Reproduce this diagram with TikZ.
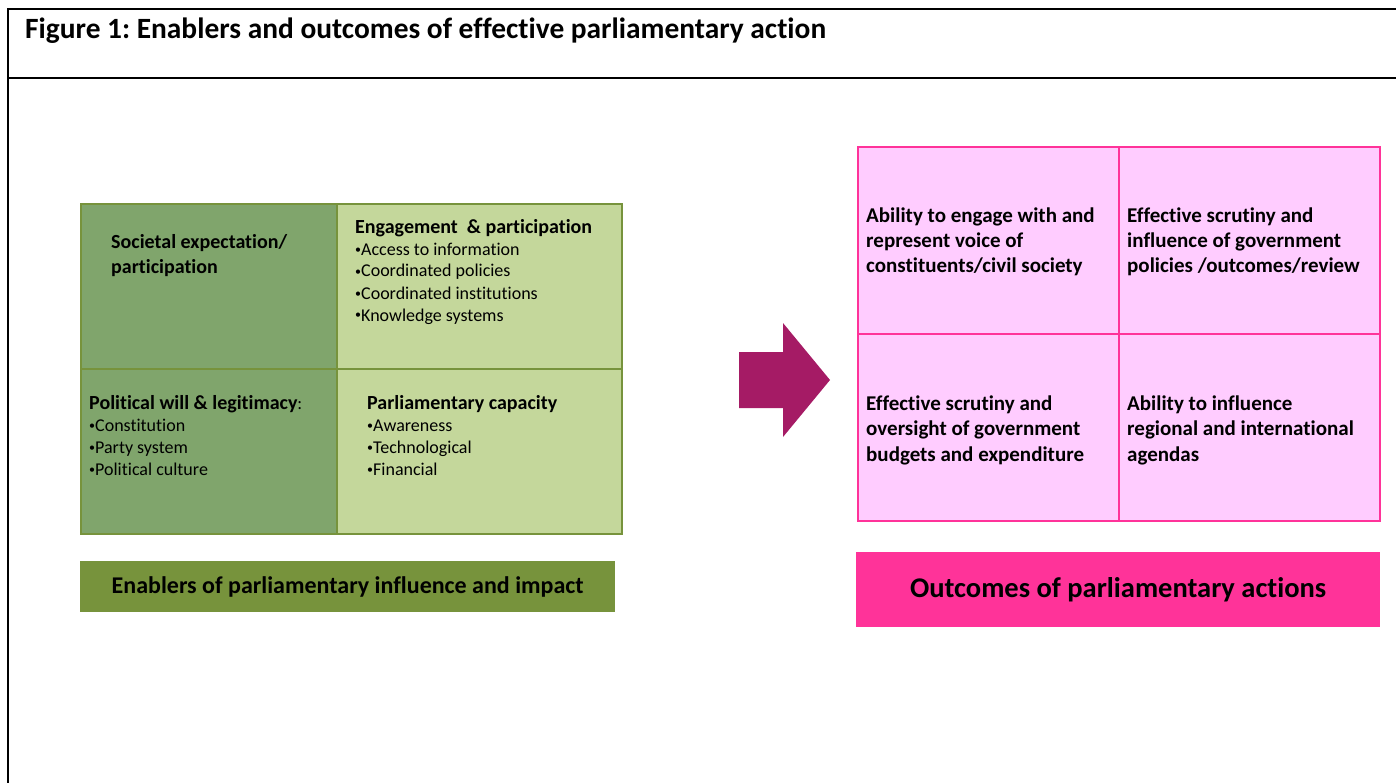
\documentclass[tikz,border=0pt]{standalone}
\usepackage{fontspec}
\setmainfont{Carlito}[Ligatures=NoCommon]
\usetikzlibrary{positioning, calc}
\frenchspacing

\definecolor{SageGreen}{RGB}{128,165,108}
\definecolor{PaleGreen}{RGB}{196,215,155}
\definecolor{OliveGreen}{RGB}{119,147,60}
\definecolor{PlumArrow}{RGB}{165,27,101}
\definecolor{PalePink}{RGB}{255,204,255}
\definecolor{HotPink}{RGB}{255,51,153}

\newcommand{\hdfont}{\bfseries\fontsize{20}{25}\selectfont}
\newcommand{\itfont}{\fontsize{18}{22}\selectfont}
\newcommand{\bul}{{\fontsize{12}{12}\selectfont\raisebox{2pt}{•}}}

\begin{document}
\begin{tikzpicture}[x=1pt, y=-1pt,
	gcell/.style={draw=OliveGreen, line width=2pt, anchor=north west, inner sep=0pt},
	pcell/.style={draw=HotPink, line width=2pt, fill=PalePink, anchor=north west,
		minimum width=261, minimum height=187, inner sep=0pt},
	txt/.style={anchor=base west, align=left, inner sep=0pt},
	ptxt/.style={txt, font=\bfseries\fontsize{21}{25.5}\selectfont}]

	\useasboundingbox (0,0) rectangle (1396,783);

	% ---------- frame and title ----------
	\draw[line width=2pt] (8,783) -- (8,9) -- (1396,9);
	\draw[line width=2pt] (8,78) -- (1396,78);
	\node[anchor=base west, inner sep=0pt, font=\bfseries\fontsize{29.4}{35}\selectfont]
		(title) at (25,39) {Figure 1: Enablers and outcomes of effective parliamentary action};

	% ---------- enablers ----------
	\node[gcell, fill=SageGreen, minimum width=256, minimum height=165] (soc) at (80,203) {};
	\node[gcell, fill=PaleGreen, minimum width=285, minimum height=165] (eng) at (336,203) {};
	\node[gcell, fill=SageGreen, minimum width=256, minimum height=165] (pol) at (80,368) {};
	\node[gcell, fill=PaleGreen, minimum width=285, minimum height=165] (cap) at (336,368) {};

	% text nodes sit on the baseline of their last line
	\node[txt, font=\hdfont] (soctxt) at (111,274) {Societal expectation/\\participation};
	\node[txt, font=\itfont] (engtxt) at (355,321)
		{{\hdfont Engagement~ \&~participation}\\
		 \bul Access to information\\ \bul Coordinated policies\\
		 \bul Coordinated institutions\\ \bul Knowledge systems};
	\node[txt, font=\itfont] (poltxt) at (89,475)
		{{\hdfont Political will \& legitimacy}:\\
		 \bul Constitution\\ \bul Party system\\ \bul Political culture};
	\node[txt, font=\itfont] (captxt) at (367,475)
		{{\hdfont Parliamentary capacity}\\
		 \bul Awareness\\ \bul Technological\\ \bul Financial};

	\node[fill=OliveGreen, anchor=north west, minimum width=535, minimum height=51,
		inner sep=0pt, font=\bfseries\fontsize{24}{29}\selectfont]
		(enablers) at (80,561) {Enablers of parliamentary influence and impact};

	% ---------- arrow ----------
	\fill[PlumArrow] (739,352) -- (783,352) -- (783,323) -- (830,380)
		-- (783,437) -- (783,408) -- (739,408) -- cycle;

	% ---------- outcomes ----------
	\node[pcell] (voice) at (857,146) {};
	\node[pcell] (policy) at (1118,146) {};
	\node[pcell] (budget) at (857,333) {};
	\node[pcell] (agenda) at (1118,333) {};

	\node[ptxt] (voicetxt) at (866,273)
		{Ability to engage with and\\ represent voice of\\ constituents/civil society};
	\node[ptxt] (policytxt) at (1127,273)
		{Effective scrutiny and\\ influence of government\\ policies /outcomes/review};
	\node[ptxt] (budgettxt) at (866,461)
		{Effective scrutiny and\\ oversight of government\\ budgets and expenditure};
	\node[ptxt] (agendatxt) at (1127,461)
		{Ability to influence\\ regional and international\\ agendas};

	\node[fill=HotPink, anchor=north west, minimum width=524, minimum height=75,
		inner sep=0pt, font=\bfseries\fontsize{28.5}{34}\selectfont]
		(outcomes) at (856,552) {Outcomes of parliamentary actions};
\end{tikzpicture}
\end{document}
